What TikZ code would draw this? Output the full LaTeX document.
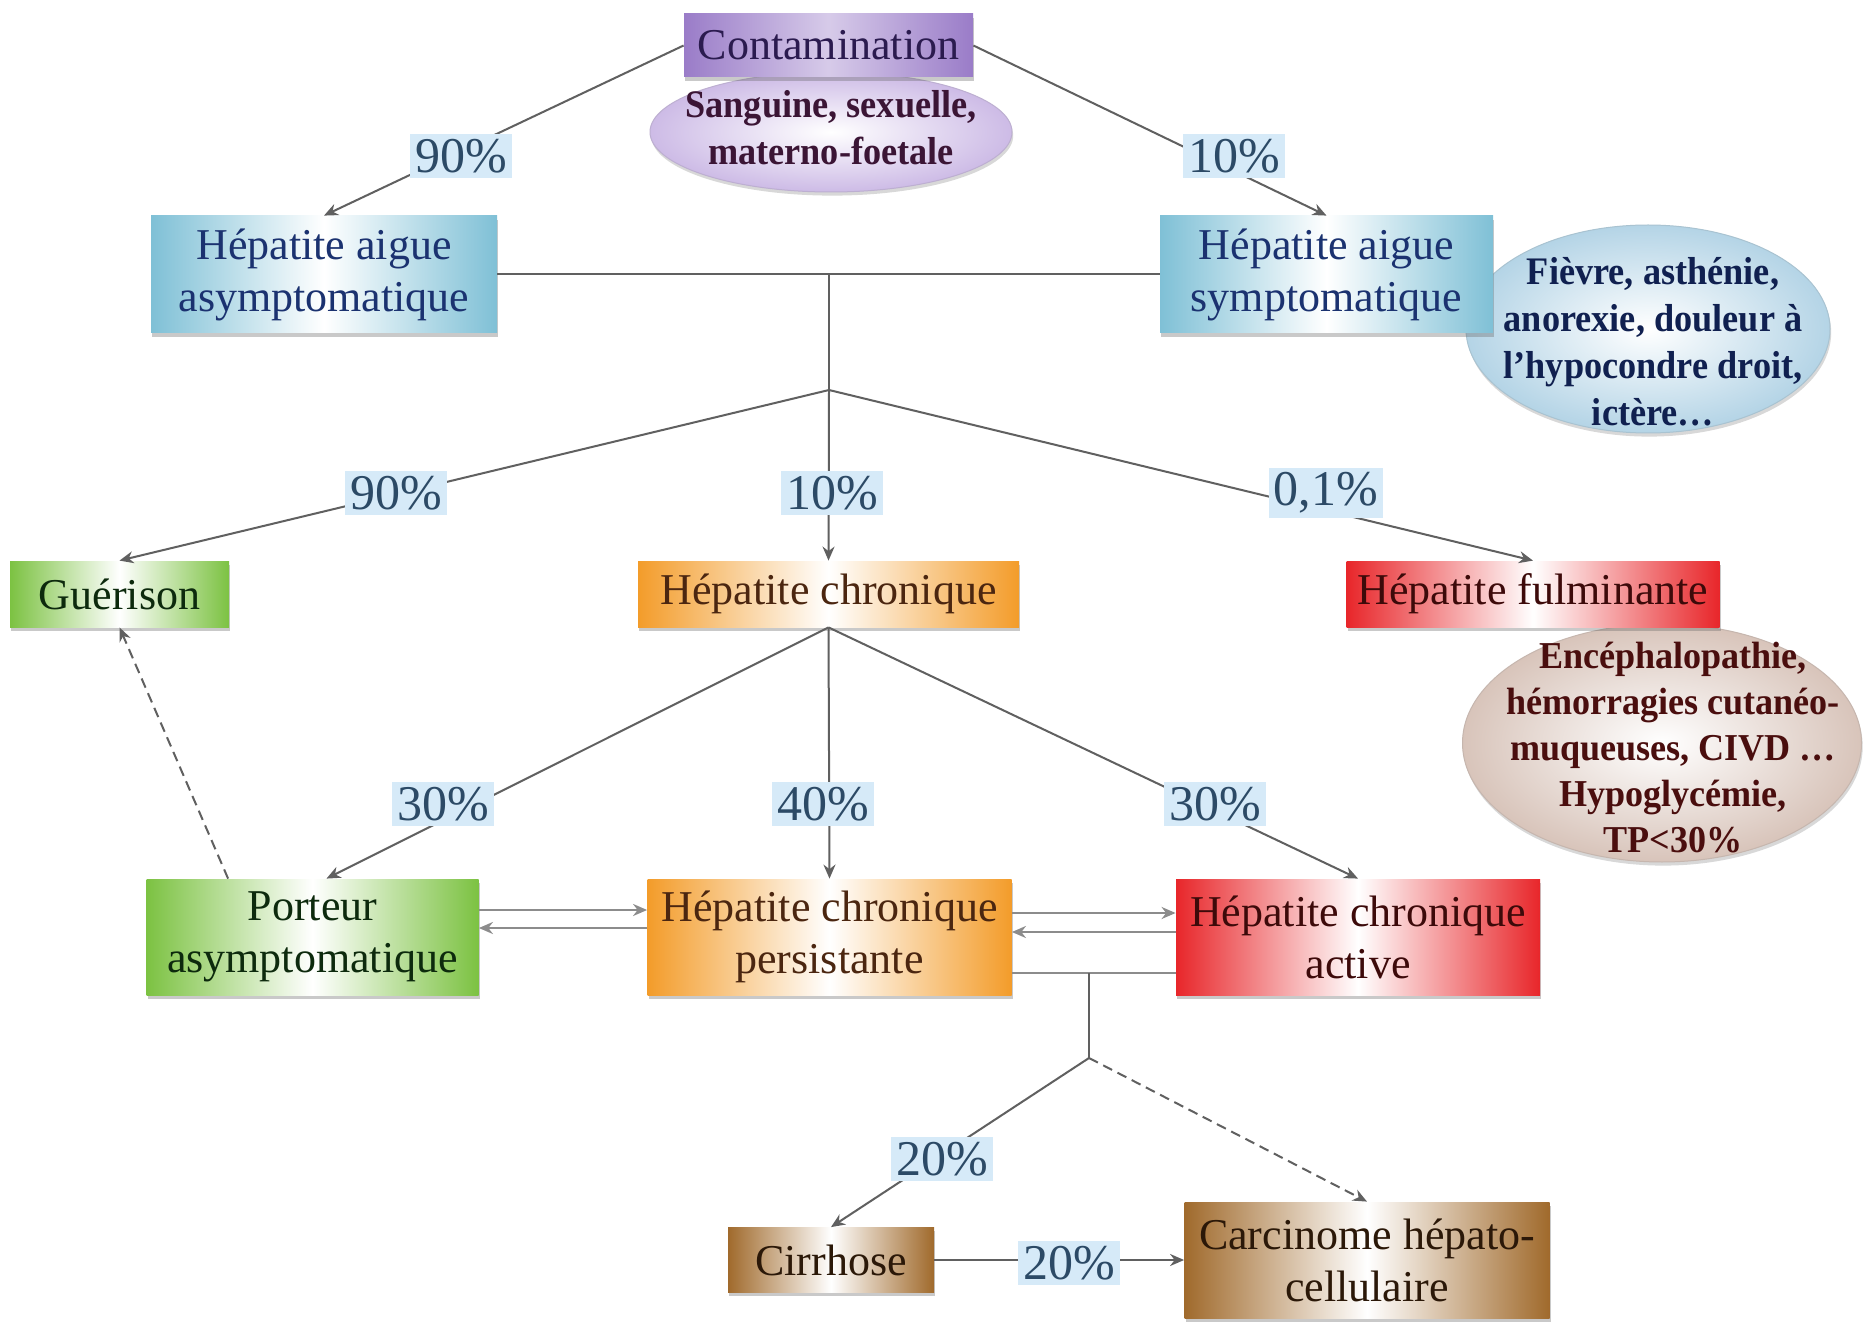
\documentclass[tikz,border=0pt]{standalone}
\usepackage{fontspec}
\setmainfont{Liberation Serif}
\usetikzlibrary{shapes.geometric,shadows,calc,arrows.meta}
\definecolor{cPurple}{HTML}{9A7CC8}
\definecolor{cBlue}{HTML}{7FC0D6}
\definecolor{cGreen}{HTML}{7CC242}
\definecolor{cOrange}{HTML}{F39C2A}
\definecolor{cRed}{HTML}{E8262A}
\definecolor{cBrown}{HTML}{A06A2C}
\definecolor{tPurple}{HTML}{2B1B4F}
\definecolor{tBlue}{HTML}{1B3270}
\definecolor{tGreen}{HTML}{0D2A0D}
\definecolor{tOrange}{HTML}{4B2610}
\definecolor{tRed}{HTML}{3D0A0A}
\definecolor{tBrown}{HTML}{2B1808}
\definecolor{tEllP}{HTML}{3B1535}
\definecolor{tEllB}{HTML}{102050}
\definecolor{tEllR}{HTML}{4A0E0E}
\definecolor{cEllP}{HTML}{CDBBE6}
\definecolor{cEllB}{HTML}{B4D4E6}
\definecolor{cEllR}{HTML}{D8C4BA}
\definecolor{cLab}{HTML}{D6EAF8}
\definecolor{tLab}{HTML}{2C4A66}
\definecolor{cLine}{HTML}{606060}
\tikzset{
  box/.style={rectangle, inner sep=0pt, align=center,
    font=\fontsize{22}{26}\selectfont,
    drop shadow={shadow xshift=0.6pt, shadow yshift=-1.8pt, opacity=0.35, fill=black!60}},
  bpurple/.style={box, left color=cPurple, right color=cPurple, middle color=cPurple!40!white, text=tPurple},
  bblue/.style={box, left color=cBlue, right color=cBlue, middle color=white, text=tBlue},
  bgreen/.style={box, left color=cGreen, right color=cGreen, middle color=white, text=tGreen},
  borange/.style={box, left color=cOrange, right color=cOrange, middle color=white, text=tOrange},
  bred/.style={box, left color=cRed, right color=cRed, middle color=white, text=tRed},
  bbrown/.style={box, left color=cBrown, right color=cBrown, middle color=white, text=tBrown},
  ellbase/.style={ellipse, inner sep=0pt, line width=0.5pt,
    drop shadow={shadow xshift=0.6pt, shadow yshift=-1.8pt, opacity=0.25, fill=black!60}},
  ellP/.style={ellbase, draw=cEllP!80!gray, inner color=white, outer color=cEllP},
  ellB/.style={ellbase, draw=cEllB!80!gray, inner color=white, outer color=cEllB},
  ellR/.style={ellbase, draw=cEllR!80!gray, inner color=white, outer color=cEllR},
  elltext/.style={align=center, inner sep=0pt, font=\bfseries\fontsize{19.5}{23.5}\selectfont\addfontfeature{FakeStretch=0.93}},
  lab/.style={fill=cLab, inner sep=2.5pt, text=tLab, font=\fontsize{25}{28}\selectfont},
  conn/.style={draw=cLine, line width=1pt},
  arr/.style={conn, -{Stealth[length=7pt,width=6pt]}},
  darr/.style={draw=gray!90, line width=1.4pt, -{Stealth[length=7pt,width=6pt]}},
  dasharr/.style={arr, dash pattern=on 5pt off 3pt},
}
\begin{document}
\begin{tikzpicture}[x=0.5pt,y=-0.5pt]
\useasboundingbox[fill=white] (0,0) rectangle (1864,1326);

% ellipses (behind boxes)
\node[ellP, minimum width=181pt, minimum height=60pt] (e0) at (831,132) {};
\node[elltext, text=tEllP] (e0t) at (831,128) {Sanguine, sexuelle,\\materno-foetale};
\node[ellB, minimum width=182pt, minimum height=104pt] (e1) at (1648,329) {};
\node[elltext, text=tEllB] (e1t) at (1653,342) {Fièvre, asthénie,\\anorexie, douleur à\\l’hypocondre droit,\\ictère…};
\node[ellR, minimum width=199.5pt, minimum height=119pt] (e2) at (1662,743) {};
\node[elltext, text=tEllR, font=\bfseries\fontsize{19}{23}\selectfont\addfontfeature{FakeStretch=0.95}] (e2t) at (1673,748) {Encéphalopathie,\\hémorragies cutanéo-\\muqueuses, CIVD …\\Hypoglycémie,\\TP<30\%};

% boxes
\node[bpurple, minimum width=144.5pt, minimum height=31.5pt] (cont) at (828.5,45.5) {Contamination};
\node[bblue, minimum width=173pt, minimum height=58.5pt] (has) at (324,274.5) {Hépatite aigue\\asymptomatique};
\node[bblue, minimum width=166.5pt, minimum height=58.5pt] (hss) at (1326.5,274.5) {Hépatite aigue\\symptomatique};
\node[bgreen, minimum width=109.5pt, minimum height=33pt] (gue) at (119.5,594) {Guérison};
\node[borange, minimum width=190.5pt, minimum height=33pt] (hc) at (828.5,594) {Hépatite chronique};
\node[bred, minimum width=186.5pt, minimum height=33pt] (fulm) at (1533,594) {Hépatite fulminante};
\node[bgreen, minimum width=166pt, minimum height=58pt] (port) at (312.5,937) {Porteur\\asymptomatique};
\node[borange, minimum width=182pt, minimum height=58pt] (hcp) at (829.5,937) {Hépatite chronique\\persistante};
\node[bred, minimum width=182pt, minimum height=58pt] (hca) at (1358,937) {Hépatite chronique\\active};
\node[bbrown, minimum width=103pt, minimum height=32.5pt] (cir) at (831,1260) {Cirrhose};
\node[bbrown, minimum width=182.5pt, minimum height=58pt] (car) at (1367,1260) {Carcinome hépato-\\cellulaire};

% junctions
\coordinate (j1) at (829,390);
\coordinate (j2) at (1089,1058);

% connectors
\draw[arr] (cont.west) -- (has.north);
\draw[arr] (cont.east) -- (hss.north);
\draw[conn] (has.east) -- (hss.west);
\draw[conn] (has.east -| j1) -- (j1);
\draw[arr] (j1) -- (gue.north);
\draw[arr] (j1) -- (hc.north);
\draw[arr] (j1) -- (fulm.north);
\draw[arr] (hc.south) -- ($(port.north)+(14,0)$);
\draw[arr] (hc.south) -- (hcp.north);
\draw[arr] (hc.south) -- (hca.north);
\draw[dasharr] ($(port.north west)+(82,0)$) -- (gue.south);
\draw[darr] ($(port.east)+(0,-27)$) -- ($(hcp.west)+(0,-27)$);
\draw[darr] ($(hcp.west)+(0,-9)$) -- ($(port.east)+(0,-9)$);
\draw[darr] ($(hcp.east)+(0,-24)$) -- ($(hca.west)+(0,-24)$);
\draw[darr] ($(hca.west)+(0,-5)$) -- ($(hcp.east)+(0,-5)$);
\coordinate (l3) at ($(hcp.east)+(0,36)$);
\draw[draw=gray!90, line width=1.4pt] (l3) -- (l3 -| hca.west);
\draw[conn] (l3 -| j2) -- (j2);
\draw[arr] (j2) -- (cir.north);
\draw[dasharr] (j2) -- (car.north);
\draw[arr] (cir.east) -- (car.west);

% labels
\node[lab] (p1) at (461,156) {90\%};
\node[lab] (p2) at (1234,156) {10\%};
\node[lab] (p3) at (396,493) {90\%};
\node[lab] (p4) at (832,493) {10\%};
\node[lab] (p5) at (1326,493) {0,1\%};
\node[lab] (p6) at (443,804) {30\%};
\node[lab] (p7) at (823,804) {40\%};
\node[lab] (p8) at (1215,804) {30\%};
\node[lab] (p9) at (942,1159) {20\%};
\node[lab] (p10) at (1069,1263) {20\%};
\end{tikzpicture}
\end{document}
